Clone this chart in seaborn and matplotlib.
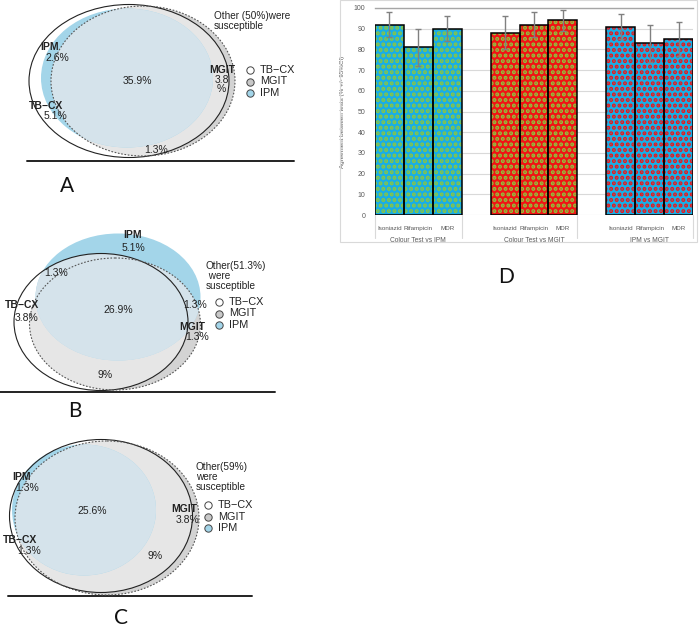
import pandas as pd
import matplotlib
matplotlib.use("Agg")
import matplotlib.pyplot as plt
import matplotlib.transforms as mtransforms
from matplotlib.patches import Ellipse, Rectangle
import seaborn as sns

# panel D data
comparisons = ["Colour Test vs IPM", "Colour Test vs MGIT", "IPM vs MGIT"]
drugs = ["Isoniazid", "Rifampicin", "MDR"]
agreement = [[92, 81, 90], [88, 92, 94], [91, 83, 85]]
ci95 = [[6, 9, 6], [8, 6, 5], [6, 9, 8]]
y_ticks = list(range(0, 101, 10))
y_label = "Agreement between tests (% +/- 95%CI)"

# venn panels data
venn_sets = ["TB\u2212CX", "MGIT", "IPM"]
a_labels = ["IPM", "2.6%", "TB\u2212CX", "5.1%", "MGIT", "3.8", "%", "35.9%", "1.3%"]
b_labels = ["IPM", "5.1%", "1.3%", "TB\u2212CX", "3.8%", "26.9%", "1.3%", "MGIT", "1.3%", "9%"]
c_labels = ["IPM", "1.3%", "TB\u2212CX", "1.3%", "25.6%", "MGIT", "3.8%", "9%"]
a_other = "Other (50%)were\nsusceptible"
b_other = "Other(51.3%)\n were\nsusceptible"
c_other = "Other(59%)\nwere\nsusceptible"

# layout (pixel positions on the 700x630 canvas)
a_xy = [(50, 47), (57, 58), (46, 106), (55, 116), (222, 70), (222, 80), (221, 89), (137, 81), (156, 150)]
b_xy = [(133, 235), (133, 248), (56, 273), (22, 305), (27, 318), (118, 310), (195, 305), (192, 327), (197, 337), (105, 375)]
c_xy = [(22, 477), (27, 488), (20, 540), (29, 551), (92, 511), (184, 509), (188, 520), (155, 556)]
bold_names = {"IPM", "MGIT", "TB\u2212CX"}

# ellipses: TB-CX, MGIT, IPM -> (center, width, height)
a_shapes = [((129, 81), 200, 153), ((143, 81), 184, 150), ((127, 78), 172, 139)]
b_shapes = [((101, 322), 174, 137), ((115, 324), 171, 132), ((118, 297), 165, 127)]
c_shapes = [((101, 516), 183, 153), ((107, 518), 184, 154), ((84, 510), 144, 131)]

GRAY = "#d3d3d3"
LIGHTGRAY = "#e6e6e6"
BLUE = "#a3d5e9"
PALE = "#d5e3eb"
TXT = "#222222"

sns.set_theme(style="white")
plt.rcParams["font.family"] = ["Liberation Sans", "DejaVu Sans"]
plt.rcParams["hatch.linewidth"] = 2.0

fig = plt.figure(figsize=(7, 6.3), dpi=100)
canvas = fig.add_axes([0, 0, 1, 1])
canvas.set_xlim(0, 700)
canvas.set_ylim(630, 0)
canvas.axis("off")


def ell(spec, **kw):
    return Ellipse(spec[0], spec[1], spec[2], **kw)


def draw_venn(ax, shapes, labels, label_xy, other, other_xy, legend_xy, pale_tbcx):
    t, m, i = shapes
    ax.add_patch(ell(m, fc=GRAY, ec="none", zorder=1))
    p = ell(t, fc=LIGHTGRAY, ec="none", zorder=2)
    p.set_clip_path(ell(m, transform=ax.transData))
    ax.add_patch(p)
    ax.add_patch(ell(i, fc=BLUE, ec="none", zorder=3))
    p = ell(i, fc=PALE, ec="none", zorder=4)
    p.set_clip_path(ell(m, transform=ax.transData))
    ax.add_patch(p)
    if pale_tbcx:
        p = ell(i, fc=PALE, ec="none", zorder=4)
        p.set_clip_path(ell(t, transform=ax.transData))
        ax.add_patch(p)
    ax.add_patch(ell(t, fill=False, ec="#222222", lw=0.8, zorder=5))
    ax.add_patch(ell(m, fill=False, ec="#555555", lw=0.8, ls=(0, (1.5, 1.5)), zorder=5))

    for txt, (x, y) in zip(labels, label_xy):
        bold = txt in bold_names
        ax.text(x, y, txt, ha="center", va="center", fontsize=7.5,
                fontweight="bold" if bold else "normal", color=TXT, zorder=6)

    ax.text(other_xy[0], other_xy[1], other, ha="left", va="top", fontsize=7.2,
            color=TXT, linespacing=1.0, zorder=6)

    lx, ly = legend_xy
    marker_fc = ["white", "#c8c8c8", BLUE]
    for k, name in enumerate(venn_sets):
        ax.scatter([lx], [ly + k * 11.5], s=28, fc=marker_fc[k], ec="#444444",
                   lw=0.7, zorder=6)
        ax.text(lx + 10, ly + k * 11.5, name, ha="left", va="center",
                fontsize=7.8, color=TXT, zorder=6)


draw_venn(canvas, a_shapes, a_labels, a_xy, a_other, (214, 11), (250, 70), False)
draw_venn(canvas, b_shapes, b_labels, b_xy, b_other, (206, 261), (219, 302), True)
draw_venn(canvas, c_shapes, c_labels, c_xy, c_other, (196, 462), (208, 505), False)

# baselines
for x0, x1, y in [(27, 294, 161), (0, 275, 392), (8, 252, 596)]:
    canvas.plot([x0, x1], [y, y], color="#222222", lw=1.4)

for letter, (x, y) in zip("ABCD", [(67, 186), (75, 411), (121, 618), (506, 277)]):
    canvas.text(x, y, letter, ha="center", va="center", fontsize=15,
                family=["Lato", "DejaVu Sans"], color="#111111")

# panel D
fig.add_artist(Rectangle((340 / 700, 1 - 242 / 630), 357 / 700, 242 / 630,
                         transform=fig.transFigure, fill=False, ec="#d9d9d9", lw=0.8))

rows = []
for g, comp in enumerate(comparisons):
    for d, drug in enumerate(drugs):
        rows.append({"comparison": comp, "drug": drug, "pos": g * 4 + d,
                     "agreement": agreement[g][d], "ci": ci95[g][d], "group": g})
df = pd.DataFrame(rows)

ax = fig.add_axes([375 / 700, 1 - 215 / 630, 318 / 700, 207 / 630])
sns.barplot(data=df, x="pos", y="agreement", orient="x", native_scale=True,
            width=1, errorbar=None, ax=ax, zorder=2)

face = ["#19aee6", "#f01414", "#19aee6"]
dots = ["#8cc63f", "#8cc63f", "#f01414"]
for patch, row in zip(ax.patches, df.itertuples()):
    patch.set_facecolor(face[row.group])
    patch.set_edgecolor(dots[row.group])
    patch.set_hatch("...")
    patch.set_linewidth(0)
    ax.add_patch(Rectangle(patch.get_xy(), patch.get_width(), patch.get_height(),
                           fill=False, ec="black", lw=1.1, zorder=3))

ax.errorbar(df["pos"], df["agreement"], yerr=df["ci"], fmt="none",
            ecolor="#808080", elinewidth=1, capsize=2, capthick=1, zorder=4)

ax.set_xlim(-0.5, 10.5)
ax.set_ylim(0, 100)
ax.set_yticks(y_ticks)
ax.set_yticklabels([str(v) for v in y_ticks], fontsize=5, color="#595959")
ax.tick_params(axis="y", length=0, pad=7)
ax.set_xticks([])
ax.set_xlabel("")
ax.set_ylabel(y_label, fontsize=4.5, color="#595959", labelpad=6)
ax.yaxis.grid(True, color="#d9d9d9", lw=0.8)
ax.set_axisbelow(True)
for side in ["left", "right", "bottom"]:
    ax.spines[side].set_visible(False)
ax.spines["top"].set_color("#a6a6a6")
ax.spines["top"].set_linewidth(1)

trans = mtransforms.blended_transform_factory(ax.transData, ax.transAxes)
for row in df.itertuples():
    ax.text(row.pos, -0.063, row.drug, ha="center", va="center", fontsize=4.5,
            color="#595959", transform=trans)
for g, comp in enumerate(comparisons):
    mid = df.loc[df["group"] == g, "pos"].mean()
    ax.text(mid, -0.121, comp, ha="center", va="center", fontsize=4.8,
            color="#595959", transform=trans)
edges = [-0.5] + [g * 4 + 2.5 for g in range(len(comparisons))]
for x in edges:
    ax.plot([x, x], [0, -0.112], transform=trans, color="#d9d9d9", lw=0.8,
            clip_on=False)

fig.savefig("out.png", dpi=100)
